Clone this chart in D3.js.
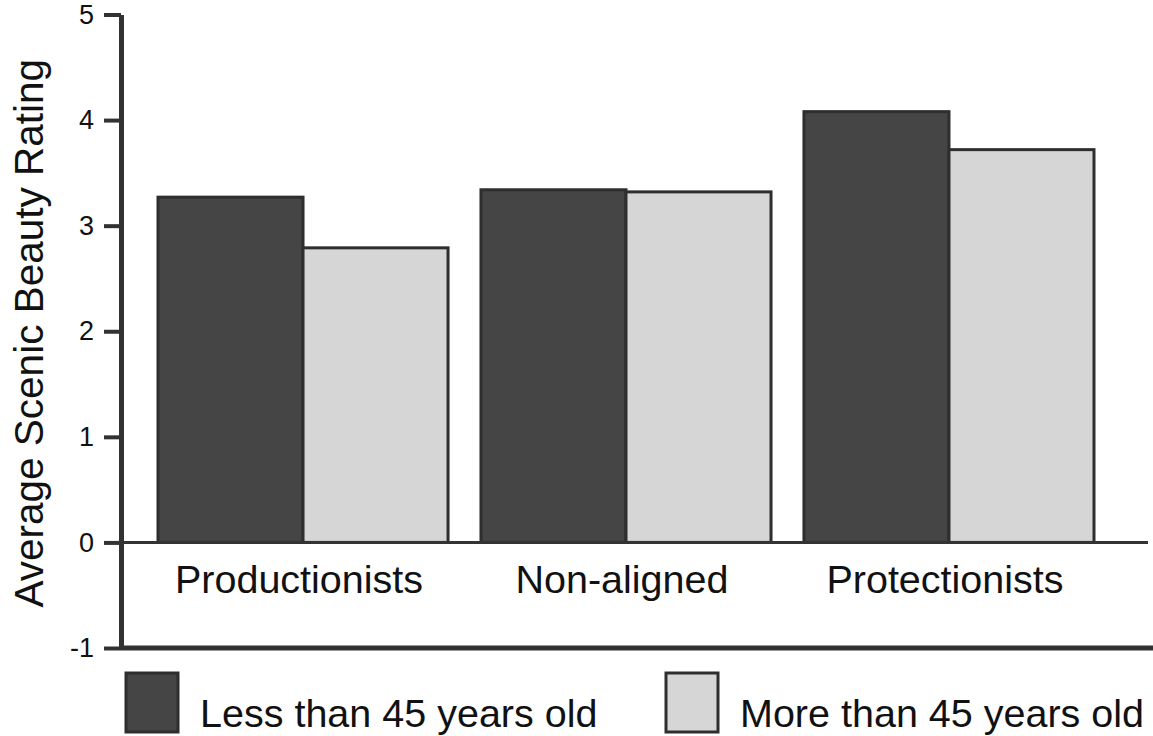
<!DOCTYPE html>
<html>
<head>
<meta charset="utf-8">
<script src="https://cdn.jsdelivr.net/npm/d3@7"></script>
<style>
  body { margin: 0; background: #fff; }
  text { font-family: "Liberation Sans", Arial, Helvetica, sans-serif; fill: #111; }
</style>
</head>
<body>
<div class="chart"></div>
<script>
const categories = ['Productionists', 'Non-aligned', 'Protectionists'];
const series = ['Less than 45 years old', 'More than 45 years old'];
const youngValues = [3.27, 3.34, 4.08];
const olderValues = [2.79, 3.32, 3.72];
const yTicks = [-1, 0, 1, 2, 3, 4, 5];
const colors = ['#454545', '#d6d6d6'];

const width = 1153;
const height = 736;
const svg = d3.select('.chart').append('svg').attr('width', width).attr('height', height);

const axisX = 121;
const y = d3.scaleLinear().domain([-1, 5]).range([648, 14.5]);
const x0 = d3.scaleBand().domain(categories).range([158, 1094]).paddingInner(0.102).paddingOuter(0);
const x1 = d3.scaleBand().domain(series).range([0, x0.bandwidth()]).padding(0);

const rows = categories.map((c, i) => ({ cat: c, vals: [youngValues[i], olderValues[i]] }));

// bars
const groups = svg.selectAll('g.group').data(rows).enter().append('g')
    .attr('class', 'group')
    .attr('transform', d => `translate(${x0(d.cat)},0)`);

groups.selectAll('rect').data(d => d.vals.map((v, j) => ({ s: series[j], v: v, j: j }))).enter().append('rect')
    .attr('x', d => x1(d.s))
    .attr('y', d => y(d.v))
    .attr('width', x1.bandwidth())
    .attr('height', d => y(0) - y(d.v))
    .attr('fill', d => colors[d.j])
    .attr('stroke', '#2e2e2e')
    .attr('stroke-width', 3);

// zero line
svg.append('line')
    .attr('x1', axisX).attr('x2', 1148)
    .attr('y1', y(0)).attr('y2', y(0))
    .attr('stroke', '#333').attr('stroke-width', 3);

// bottom line
svg.append('line')
    .attr('x1', axisX).attr('x2', width)
    .attr('y1', y(-1)).attr('y2', y(-1))
    .attr('stroke', '#333').attr('stroke-width', 5);

// y axis
const yAxis = svg.append('g')
    .attr('transform', `translate(${axisX},0)`)
    .call(d3.axisLeft(y).tickValues(yTicks).tickFormat(d => String(d)).tickSize(17).tickSizeOuter(0).tickPadding(10));
yAxis.select('.domain').attr('stroke', '#333').attr('stroke-width', 5);
yAxis.selectAll('.tick line').attr('stroke', '#333').attr('stroke-width', 4);
yAxis.selectAll('.tick text')
    .style('font-family', '"Liberation Sans", Arial, sans-serif')
    .style('font-size', '27px')
    .attr('fill', '#111');

// y title
svg.append('text')
    .attr('transform', `translate(43,${(y(5) + y(-1)) / 2 + 2}) rotate(-90)`)
    .attr('text-anchor', 'middle')
    .style('font-size', '40.5px')
    .text('Average Scenic Beauty Rating');

// category labels
svg.selectAll('text.cat').data(categories).enter().append('text')
    .attr('class', 'cat')
    .attr('x', d => x0(d) + x0.bandwidth() / 2 - 4)
    .attr('y', 593)
    .attr('text-anchor', 'middle')
    .style('font-size', '39.5px')
    .text(d => d);

// legend
const legendX = [126, 666];
const legend = svg.selectAll('g.legend').data(series).enter().append('g')
    .attr('class', 'legend')
    .attr('transform', (d, i) => `translate(${legendX[i]},673)`);
legend.append('rect')
    .attr('width', 52).attr('height', 59)
    .attr('fill', (d, i) => colors[i])
    .attr('stroke', '#2e2e2e').attr('stroke-width', 3);
legend.append('text')
    .attr('x', 74).attr('y', 54)
    .style('font-size', '39.5px')
    .text(d => d);
</script>
</body>
</html>
